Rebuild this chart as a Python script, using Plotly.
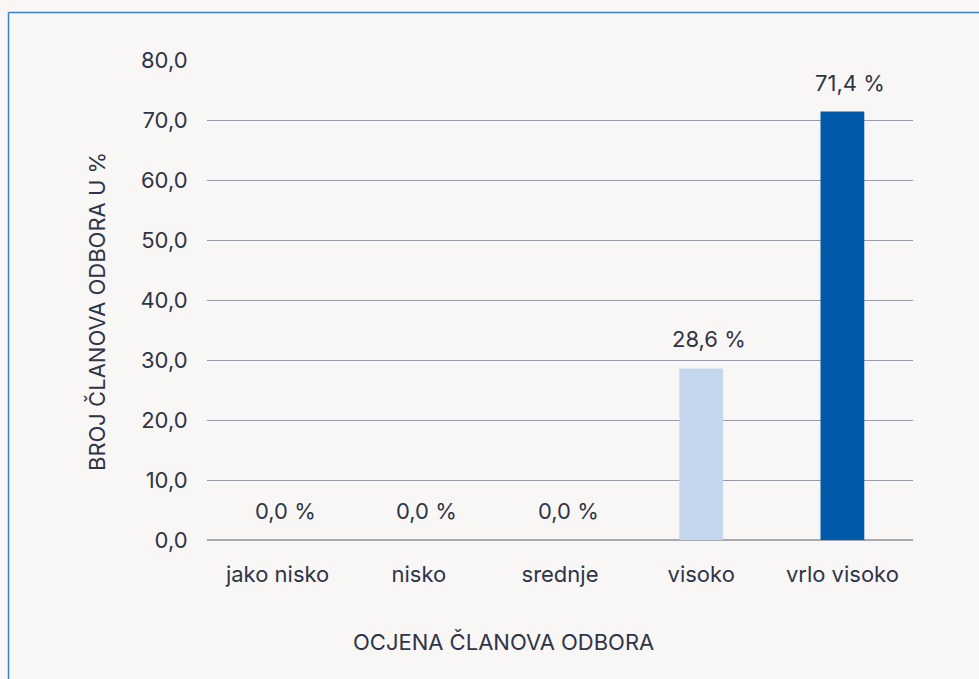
import plotly.graph_objects as go

categories = ["jako nisko", "nisko", "srednje", "visoko", "vrlo visoko"]
values = [0.0, 0.0, 0.0, 28.6, 71.4]
colors = ["#c5d7ee", "#c5d7ee", "#c5d7ee", "#c5d7ee", "#005aa9"]
y_ticks = [0, 10, 20, 30, 40, 50, 60, 70, 80]
x_title = "OCJENA ČLANOVA ODBORA"
y_title = "BROJ ČLANOVA ODBORA U %"

BG = "#f8f7f5"
TXT = "#2f3447"
FONT = "Inter, Noto Sans, sans-serif"

fig = go.Figure(go.Bar(
    x=categories, y=values,
    marker=dict(color=colors, line=dict(width=0)),
    width=0.31,
    hoverinfo="x+y",
))

for c, v in zip(categories, values):
    fig.add_annotation(
        x=c, y=v, text=f"{v:.1f} %".replace(".", ","),
        showarrow=False, yanchor="bottom", yshift=14, xshift=8,
        font=dict(size=22, color=TXT, family=FONT),
    )

# axis titles placed as annotations to match reference placement
fig.add_annotation(xref="paper", yref="paper", x=(503 - 207) / 706, y=(540 - 642) / 480,
                   text=x_title, showarrow=False, xanchor="center", yanchor="middle",
                   font=dict(size=22, color=TXT, family=FONT))
fig.add_annotation(xref="paper", yref="paper", x=(97 - 207) / 706, y=(540 - 312) / 480,
                   text=y_title, showarrow=False, textangle=-90,
                   xanchor="center", yanchor="middle",
                   font=dict(size=22, color=TXT, family=FONT))

fig.update_layout(
    width=979, height=679,
    margin=dict(l=207, r=66, t=60, b=139),
    paper_bgcolor=BG, plot_bgcolor=BG,
    separators=",.",
    font=dict(family=FONT, color=TXT),
    showlegend=False,
)
fig.update_xaxes(
    showgrid=False, showline=False,
    ticks="outside", ticklen=15, tickcolor=BG,
    tickfont=dict(size=22, color=TXT),
)
fig.update_yaxes(
    range=[0, 80], tickvals=y_ticks, tickformat=".1f",
    showgrid=True, gridcolor="#9a9aa8", gridwidth=1,
    zeroline=True, zerolinecolor="#a8a8b2", zerolinewidth=2,
    ticks="outside", ticklen=14, tickcolor=BG,
    tickfont=dict(size=22, color=TXT),
)

# frame lines (blue), left and top
fx = (8.5 - 207) / 706
fy = 1 + (60 - 12.5) / 480
fig.add_shape(type="line", xref="paper", yref="paper",
              x0=fx, x1=fx, y0=fy, y1=(540 - 700) / 480,
              line=dict(color="#3a7ec8", width=1.5))
fig.add_shape(type="line", xref="paper", yref="paper",
              x0=fx, x1=(1000 - 207) / 706, y0=fy, y1=fy,
              line=dict(color="#3a7ec8", width=1.5))

fig.write_html(
    "out.html",
    config={"displayModeBar": False},
    post_script="document.body.style.margin='0';document.body.style.background='%s';" % BG,
)
